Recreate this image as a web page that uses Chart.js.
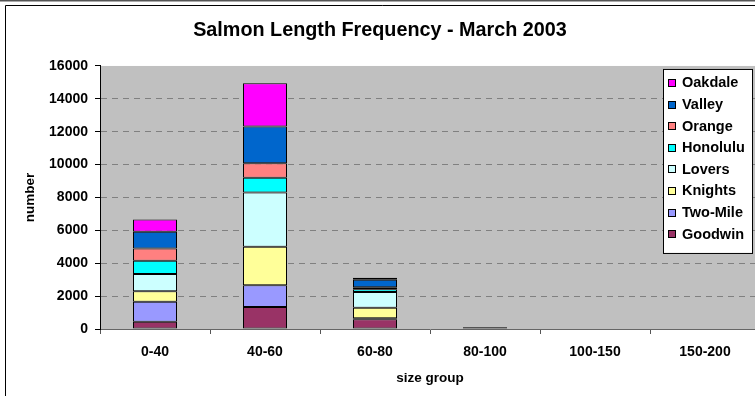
<!DOCTYPE html>
<html lang="en">
<head>
  <meta charset="UTF-8">
  <title>Salmon Length Frequency</title>
  <style>
    html, body {
      margin: 0;
      padding: 0;
      background: #fff;
      overflow: hidden;
    }
    #salmonChart {
      display: block;
    }
  </style>
  <script src="https://cdn.jsdelivr.net/npm/chart.js"></script>
</head>
<body>
  <canvas id="salmonChart" width="760" height="396"></canvas>

  <script>
    // size groups (cm) and fish counts per river, bottom of the stack first
    const sizeGroups = ['0-40', '40-60', '60-80', '80-100', '100-150', '150-200'];
    const goodwin  = [440, 1340, 590, 100, 0, 0];
    const twoMile  = [1220, 1320, 60, 0, 0, 0];
    const knights  = [630, 2350, 650, 0, 0, 0];
    const lovers   = [1050, 3300, 950, 0, 0, 0];
    const honolulu = [810, 890, 165, 0, 0, 0];
    const orange   = [750, 880, 120, 0, 0, 0];
    const valley   = [1010, 2230, 465, 0, 0, 0];
    const oakdale  = [750, 2640, 120, 0, 0, 0];

    const riverNames  = ['Goodwin', 'Two-Mile', 'Knights', 'Lovers', 'Honolulu', 'Orange', 'Valley', 'Oakdale'];
    const riverCounts = [goodwin, twoMile, knights, lovers, honolulu, orange, valley, oakdale];
    const riverColors = ['#993366', '#9999FF', '#FFFF99', '#CCFFFF', '#00FFFF', '#FF8080', '#0066CC', '#FF00FF'];

    const yTicks = [0, 2000, 4000, 6000, 8000, 10000, 12000, 14000, 16000];

    const FONT = "'Liberation Sans', Arial, Helvetica, sans-serif";

    // white page, outer frame and grey plot background
    const backdrop = {
      id: 'backdrop',
      beforeDraw(chart) {
        const { ctx, chartArea: a } = chart;
        ctx.save();
        ctx.fillStyle = '#fff';
        ctx.fillRect(0, 0, chart.width, chart.height);
        ctx.strokeStyle = '#555';
        ctx.lineWidth = 2;
        ctx.beginPath();
        ctx.moveTo(0, 0.5);
        ctx.lineTo(chart.width, 0.5);
        ctx.stroke();
        ctx.strokeStyle = '#000';
        ctx.lineWidth = 1;
        ctx.beginPath();
        ctx.moveTo(5.5, chart.height);
        ctx.lineTo(5.5, 5.5);
        ctx.lineTo(chart.width, 5.5);
        ctx.stroke();
        ctx.fillStyle = '#C0C0C0';
        ctx.fillRect(a.left, a.top, a.right - a.left, a.bottom - a.top);
        ctx.restore();
      }
    };

    // boxed legend inside the plot, top dataset listed first
    const boxLegend = {
      id: 'boxLegend',
      afterDraw(chart) {
        const { ctx, chartArea: a } = chart;
        const sets = chart.data.datasets.slice().reverse();
        const right = a.right - 8, top = a.top + 3;
        const w = 89, rowH = 21.6, h = 184;
        const left = right - w;
        ctx.save();
        ctx.fillStyle = '#fff';
        ctx.fillRect(left, top, w, h);
        ctx.strokeStyle = '#000';
        ctx.lineWidth = 1;
        ctx.strokeRect(left + 0.5, top + 0.5, w, h);
        ctx.font = 'bold 14.5px ' + FONT;
        ctx.textBaseline = 'middle';
        ctx.textAlign = 'left';
        sets.forEach((ds, i) => {
          const cy = top + 14 + i * rowH;
          ctx.fillStyle = ds.backgroundColor;
          ctx.fillRect(left + 5.5, Math.round(cy) - 3.5, 7, 7);
          ctx.strokeRect(left + 5.5, Math.round(cy) - 3.5, 7, 7);
          ctx.fillStyle = '#000';
          ctx.fillText(ds.label, left + 19, cy + 0.5);
        });
        ctx.restore();
      }
    };

    const datasets = riverNames.map((name, i) => ({
      label: name,
      data: riverCounts[i],
      backgroundColor: riverColors[i],
      borderColor: '#000',
      borderWidth: 1,
      borderSkipped: false,
      categoryPercentage: 1.0,
      barPercentage: 0.4
    }));

    new Chart(document.getElementById('salmonChart'), {
      type: 'bar',
      data: { labels: sizeGroups, datasets },
      plugins: [backdrop, boxLegend],
      options: {
        responsive: false,
        animation: false,
        layout: { padding: 0 },
        plugins: {
          legend: { display: false },
          tooltip: { enabled: false },
          title: {
            display: true,
            text: 'Salmon Length Frequency - March 2003',
            color: '#000',
            font: { family: FONT, size: 19.8, weight: 'bold' },
            padding: { top: 19.1, bottom: 23.1 }
          }
        },
        scales: {
          x: {
            stacked: true,
            afterFit(scale) { scale.height = 67; },
            grid: {
              offset: true,
              drawOnChartArea: false,
              drawTicks: true,
              tickLength: 5,
              color: '#555'
            },
            border: { display: true, color: '#666', width: 1 },
            ticks: {
              color: '#000',
              padding: 10,
              font: { family: FONT, size: 14, weight: 'bold' }
            },
            title: {
              display: true,
              text: 'size group',
              color: '#000',
              font: { family: FONT, size: 13.5, weight: 'bold' },
              padding: { top: 0, bottom: 10 }
            }
          },
          y: {
            stacked: true,
            min: 0,
            max: 16000,
            afterFit(scale) { scale.width = 100; },
            afterBuildTicks(scale) {
              scale.ticks = yTicks.map(v => ({ value: v }));
            },
            grid: {
              drawTicks: true,
              tickLength: 5,
              tickColor: '#000',
              tickBorderDash: [],
              lineWidth: 1,
              color: ctx => (ctx.tick && (ctx.tick.value === 0 || ctx.tick.value === 16000)) ? 'rgba(0,0,0,0)' : '#808080'
            },
            border: { display: true, color: '#000', width: 1, dash: [6, 5] },
            ticks: {
              color: '#000',
              padding: 7,
              font: { family: FONT, size: 14, weight: 'bold' },
              callback: v => String(v)
            },
            title: {
              display: true,
              text: 'number',
              color: '#000',
              font: { family: FONT, size: 13.5, weight: 'bold' },
              padding: { top: 22, bottom: 0 }
            }
          }
        }
      }
    });
  </script>
</body>
</html>
